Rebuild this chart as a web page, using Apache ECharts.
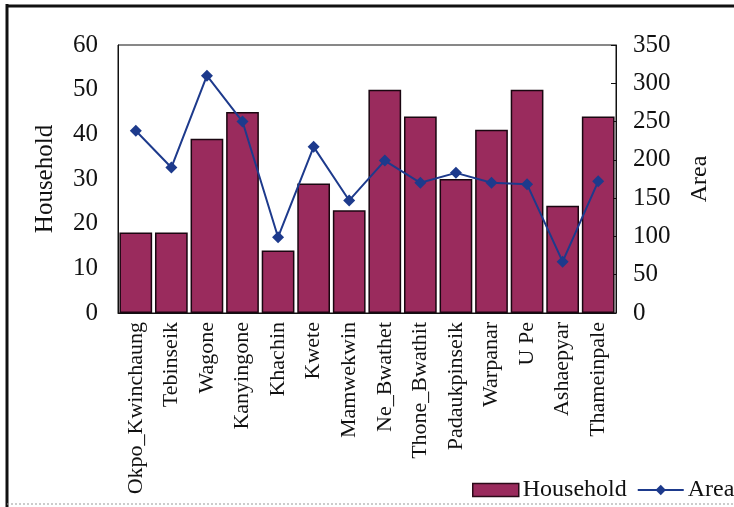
<!DOCTYPE html>
<html>
<head>
<meta charset="utf-8">
<script src="https://cdn.jsdelivr.net/npm/echarts@6/dist/echarts.min.js"></script>
<style>
  html, body { margin: 0; padding: 0; background: #fff; }
  #chart { width: 734px; height: 507px; }
</style>
</head>
<body>
<div id="chart"></div>
<script>
// villages
const villages = ['Okpo_Kwinchaung', 'Tebinseik', 'Wagone', 'Kanyingone', 'Khachin', 'Kwete',
  'Mamwekwin', 'Ne_Bwathet', 'Thone_Bwathit', 'Padaukpinseik', 'Warpanar', 'U Pe',
  'Ashaepyar', 'Thameinpale']
// household counts (left axis)
const household = [18, 18, 39, 45, 14, 29, 23, 50, 44, 30, 41, 50, 24, 44]
// area (right axis)
const area = [238, 190, 310, 250, 99, 217, 147, 199, 170, 183, 170, 168, 67, 172]

const leftTicks = [0, 10, 20, 30, 40, 50, 60]
const rightTicks = [0, 50, 100, 150, 200, 250, 300, 350]

const FONT = '"Liberation Serif", "DejaVu Serif", serif'
const BAR_COLOR = '#9a2b5d'
const LINE_COLOR = '#1d3a8c'

const chart = echarts.init(document.getElementById('chart'))

const options = {
  animation: false,
  textStyle: { fontFamily: FONT },
  graphic: [
    // outer frame: heavy left/top, light bottom
    { type: 'line', shape: { x1: 7, y1: 4, x2: 7, y2: 507 }, style: { stroke: '#111', lineWidth: 3 } },
    { type: 'line', shape: { x1: 6, y1: 6, x2: 734, y2: 6 }, style: { stroke: '#111', lineWidth: 3 } },
    { type: 'line', shape: { x1: 7, y1: 504, x2: 734, y2: 504 }, style: { stroke: '#999', lineWidth: 1, lineDash: [2, 2] } }
  ],
  grid: {
    left: 118,
    right: 118,
    top: 45,
    bottom: 194,
    show: true,
    borderColor: '#111',
    borderWidth: 1
  },
  legend: {
    orient: 'horizontal',
    left: 472,
    top: 478,
    width: 320,
    padding: 0,
    itemGap: 10,
    itemWidth: 46,
    itemHeight: 13,
    textStyle: { fontFamily: FONT, fontSize: 24, color: '#111', padding: [0, 0, 0, -1] },
    data: [
      { name: 'Household', icon: 'rect', itemStyle: { borderColor: '#2a0a18', borderWidth: 1.5 } },
      { name: 'Area' }
    ]
  },
  xAxis: {
    type: 'category',
    data: villages,
    axisLine: { lineStyle: { color: '#111' } },
    axisTick: { show: false },
    axisLabel: {
      rotate: 90,
      interval: 0,
      margin: 9,
      fontFamily: FONT,
      fontSize: 22,
      color: '#111'
    }
  },
  yAxis: [
    {
      type: 'value',
      min: 0,
      max: 60,
      interval: 10,
      name: 'Household',
      nameLocation: 'middle',
      nameGap: 60,
      nameTextStyle: { fontFamily: FONT, fontSize: 25, color: '#111' },
      axisLine: { show: true, lineStyle: { color: '#111' } },
      axisTick: { show: false },
      splitLine: { show: false },
      axisLabel: {
        margin: 20,
        fontFamily: FONT,
        fontSize: 25,
        color: '#111',
        formatter: (v) => leftTicks.includes(v) ? String(v) : ''
      }
    },
    {
      type: 'value',
      min: 0,
      max: 350,
      interval: 50,
      position: 'right',
      name: 'Area',
      nameLocation: 'middle',
      nameGap: 72,
      nameRotate: 90,
      nameTextStyle: { fontFamily: FONT, fontSize: 24, color: '#111' },
      axisLine: { show: true, lineStyle: { color: '#111' } },
      axisTick: { show: true, inside: true, length: 5, lineStyle: { color: '#111' } },
      splitLine: { show: false },
      axisLabel: {
        margin: 17,
        fontFamily: FONT,
        fontSize: 25,
        color: '#111',
        formatter: (v) => rightTicks.includes(v) ? String(v) : ''
      }
    }
  ],
  series: [
    {
      name: 'Household',
      type: 'bar',
      yAxisIndex: 0,
      data: household,
      barCategoryGap: '8%',
      itemStyle: {
        color: BAR_COLOR,
        borderColor: '#1a0610',
        borderWidth: 1.5
      }
    },
    {
      name: 'Area',
      type: 'line',
      yAxisIndex: 1,
      data: area,
      symbol: 'diamond',
      symbolSize: 12,
      color: LINE_COLOR,
      lineStyle: { width: 2, color: LINE_COLOR },
      itemStyle: { color: LINE_COLOR }
    }
  ]
}

chart.setOption(options)
</script>
</body>
</html>
